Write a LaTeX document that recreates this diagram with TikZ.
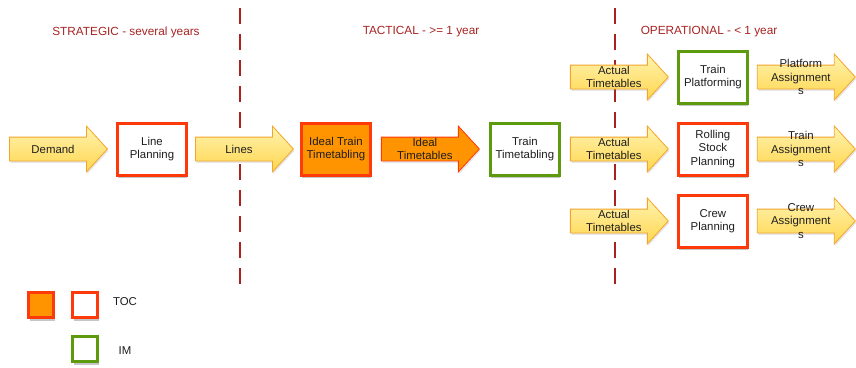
\documentclass[tikz,border=0pt]{standalone}
\usepackage{fontspec}
\setmainfont{Liberation Sans}
\usetikzlibrary{positioning,shapes.arrows,shadows}
\definecolor{tocred}{HTML}{FF3A0A}
\definecolor{tocorange}{HTML}{FF9400}
\definecolor{imgreen}{HTML}{5E9A0E}
\definecolor{phasered}{HTML}{A82222}
\definecolor{arrowedge}{HTML}{F2A52A}
\definecolor{arrowtop}{HTML}{FFF3B0}
\definecolor{arrowbottom}{HTML}{FFD64E}
\definecolor{textgray}{HTML}{1E1E1E}
\tikzset{
  >=latex,
  phase/.style={
    font=\fontsize{11.8}{14}\selectfont, text=phasered
  },
  divider/.style={
    draw=phasered, line width=2pt, dash pattern=on 16pt off 10pt
  },
  task/.style={
    draw, line width=3pt, fill=white,
    minimum width=69pt, minimum height=52pt,
    align=center, text=textgray,
    font=\fontsize{11.4}{13.5}\selectfont,
    drop shadow={opacity=.45, shadow xshift=1pt, shadow yshift=-3pt}
  },
  toc/.style={task, draw=tocred},
  im/.style={task, draw=imgreen},
  legendbox/.style={
    minimum width=25pt, minimum height=25pt
  },
  flow/.style={
    single arrow, draw=arrowedge, line width=.8pt,
    top color=arrowtop, bottom color=arrowbottom,
    minimum height=98pt, inner xsep=0pt, inner ysep=11.5pt,
    single arrow head extend=11pt, single arrow tip angle=95,
    drop shadow={opacity=.2, shadow xshift=1pt, shadow yshift=-2pt}
  },
  idealflow/.style={
    flow, draw=tocred, fill=tocorange, top color=tocorange, bottom color=tocorange
  },
  flowlabel/.style={
    align=center, text=textgray,
    font=\fontsize{11.4}{13.5}\selectfont
  }
}

\begin{document}
\begin{tikzpicture}[x=1pt, y=-1pt]
  \useasboundingbox (0,0) rectangle (856,367);

  % time horizons
  \node[phase] (strategic) at (126,32) {STRATEGIC - several years};
  \node[phase] (tactical) at (421,32) {TACTICAL - >= 1 year};
  \node[phase] (operational) at (709,32) {OPERATIONAL - < 1 year};
  \draw[divider] (240,8) -- (240,292);
  \draw[divider] (615,8) -- (615,292);

  % main chain
  \node[flow, label={[flowlabel]center:Demand}] (demand) at (53,149) {};
  \node[toc, right=8pt of demand.tip] (lineplan) {Line\\Planning};
  \node[flow, label={[flowlabel]center:Lines}, right=7pt of lineplan] (lines) {};
  \node[toc, fill=tocorange, right=6pt of lines.tip] (idealtt) {Ideal Train\\Timetabling};
  \node[idealflow, label={[flowlabel]center:Ideal\\Timetables}, right=9pt of idealtt] (idealtimes) {};
  \node[im, right=9pt of idealtimes.tip] (traintt) {Train\\Timetabling};

  % operational planning
  \node[toc, right=116pt of traintt] (rolling) {Rolling\\Stock\\Planning};
  \node[im, above=17pt of rolling] (platform) {Train\\Platforming};
  \node[toc, below=17pt of rolling] (crew) {Crew\\Planning};

  \node[flow, label={[flowlabel]center:Actual\\Timetables}, left=8pt of platform] (actual1) {};
  \node[flow, label={[flowlabel]center:Actual\\Timetables}, left=8pt of rolling] (actual2) {};
  \node[flow, label={[flowlabel]center:Actual\\Timetables}, left=8pt of crew] (actual3) {};

  \node[flow, label={[flowlabel]center:Platform\\Assignment\\s}, right=8pt of platform] (platassign) {};
  \node[flow, label={[flowlabel]center:Train\\Assignment\\s}, right=8pt of rolling] (trainassign) {};
  \node[flow, label={[flowlabel]center:Crew\\Assignment\\s}, right=8pt of crew] (crewassign) {};

  % legend
  \node[toc, legendbox, fill=tocorange] (legorange) at (41,305) {};
  \node[toc, legendbox] (legtoc) at (85,305) {};
  \node[im, legendbox] (legim) at (85,349) {};
  \node[flowlabel] (toclabel) at (125,302) {TOC};
  \node[flowlabel] (imlabel) at (125,351) {IM};
\end{tikzpicture}
\end{document}
